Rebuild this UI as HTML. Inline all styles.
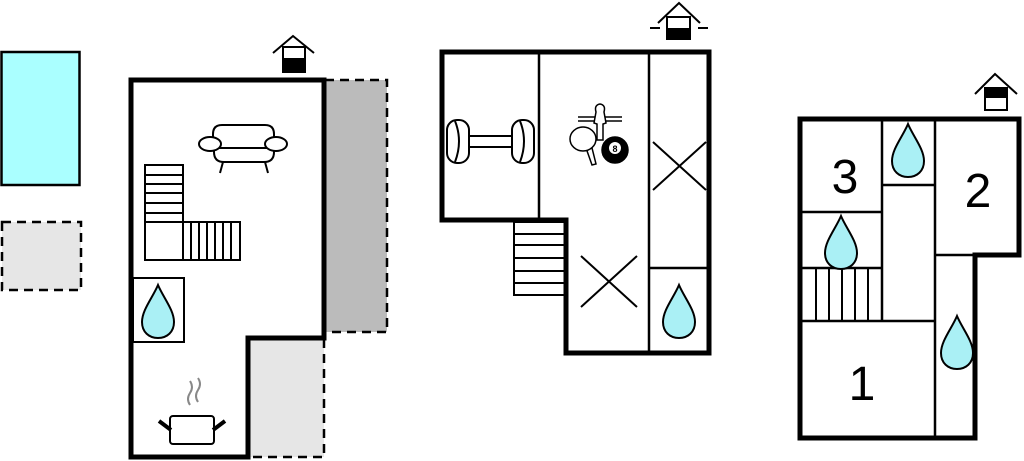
<!DOCTYPE html>
<html><head><meta charset="utf-8"><style>html,body{margin:0;padding:0;background:#fff}svg{display:block}</style></head>
<body>
<svg width="1024" height="461" viewBox="0 0 1024 461" xmlns="http://www.w3.org/2000/svg" font-family="Liberation Sans, sans-serif">
<defs>
<path id="drop" d="M0,-27 C5,-15 16,-2 16,10 C16,20 9,26 0,26 C-9,26 -16,20 -16,10 C-16,-2 -5,-15 0,-27 Z" fill="#aaf0f5" stroke="#000" stroke-width="2"/>
</defs>
<!-- left plan -->
<rect x="1.5" y="52" width="78" height="133" fill="#aaffff" stroke="#000" stroke-width="2.5"/>
<rect x="2" y="222" width="79" height="68" fill="#e6e6e6" stroke="#000" stroke-width="2.5" stroke-dasharray="9,6"/>
<rect x="325" y="80" width="62" height="252" fill="#bbb" stroke="#000" stroke-width="2.5" stroke-dasharray="9,6"/>
<rect x="250" y="338" width="74" height="119" fill="#e6e6e6" stroke="#000" stroke-width="2.5" stroke-dasharray="9,6"/>
<path d="M131,80 H324 V338 H248 V457 H131 Z" fill="#fff" stroke="#000" stroke-width="5"/>
<rect x="250.5" y="340.5" width="71" height="115" fill="#e6e6e6"/>
<g fill="none" stroke="#000" stroke-width="2">
<rect x="145" y="165" width="38" height="95"/>
<rect x="183" y="222" width="57" height="38"/>
<path d="M145,175H183M145,184H183M145,193H183M145,203H183M145,213H183M145,222H183"/>
<path d="M191,222V260M199,222V260M207,222V260M215,222V260M223,222V260M231,222V260"/>
<rect x="133" y="278" width="51" height="64"/>
</g>
<use href="#drop" x="158" y="312"/>
<!-- sofa -->
<g fill="#fff" stroke="#000" stroke-width="2">
<path d="M213,140 V134 Q213,125 222,125 H265 Q274,125 274,134 V140"/>
<path d="M214,148 V152 Q214,162 224,162 H264 Q274,162 274,152 V148"/>
<line x1="214" y1="148" x2="274" y2="148"/>
<ellipse cx="210" cy="144" rx="11" ry="7"/>
<ellipse cx="276" cy="144" rx="11" ry="7"/>
<line x1="223" y1="162" x2="220" y2="173"/><line x1="265" y1="162" x2="268" y2="173"/>
</g>
<!-- pot -->
<g fill="none">
<path d="M190,405 q-4,-6 0,-12 q4,-6 0,-12" stroke="#888" stroke-width="2"/>
<path d="M198,402 q-4,-6 0,-12 q4,-6 0,-12" stroke="#888" stroke-width="2"/>
<rect x="170" y="416" width="44" height="28" rx="3" fill="#fff" stroke="#000" stroke-width="2"/>
<path d="M159,421 L171,430 M225,421 L213,430" stroke="#000" stroke-width="4"/>
</g>
<!-- house icon -->
<g>
<path d="M273,53 L293,36 L314,53" fill="none" stroke="#000" stroke-width="2"/>
<rect x="283" y="47" width="22" height="25" fill="#fff" stroke="#000" stroke-width="2"/>
<rect x="283" y="58" width="22" height="14" fill="#000"/>
</g>

<!-- middle plan -->
<path d="M442,52 H709 V353 H566 V220 H442 Z" fill="#fff" stroke="#000" stroke-width="5"/>
<g fill="none" stroke="#000" stroke-width="2.5">
<path d="M539,52V220M649,52V353M649,268H709"/>
<rect x="514" y="222" width="52" height="73" stroke-width="2"/>
<path d="M514,234H566M514,245H566M514,258H566M514,271H566M514,283H566" stroke-width="2"/>
<path d="M653,142 L706,190 M653,190 L706,142 M581,256 L637,307 M581,307 L637,256" stroke-width="2"/>
</g>
<use href="#drop" x="679" y="312"/>
<!-- dumbbell -->
<g fill="#fff" stroke="#000" stroke-width="2">
<rect x="461" y="136" width="58" height="11" rx="5"/>
<rect x="447" y="120" width="22" height="43" rx="10"/>
<path d="M455,121 Q463,141 455,162"/>
<rect x="512" y="120" width="22" height="43" rx="10"/>
<path d="M520,121 Q528,141 520,162"/>
</g>
<!-- games -->
<g stroke="#000" stroke-width="1.5" fill="#fff">
<path d="M578,117H622M578,121H622"/>
<path d="M596,112 Q594,105 600,104 Q606,105 604,112 L606,123 L603,124 L603,140 H597 L597,124 L594,123 Z"/>
<path d="M586,148 L592,165 L596,164 L592,148 Z"/>
<ellipse cx="583" cy="139" rx="13" ry="12"/>
<circle cx="615" cy="150" r="13" fill="#000"/>
<circle cx="615" cy="148" r="6" fill="#fff" stroke="none"/>
</g>
<text x="615" y="152" font-size="9" text-anchor="middle" font-weight="bold">8</text>
<!-- house icon middle -->
<g>
<path d="M650,28H660M698,28H708" stroke="#000" stroke-width="2"/>
<path d="M658,23 L679,3 L700,23" fill="none" stroke="#000" stroke-width="2"/>
<rect x="667" y="17" width="23" height="22" fill="#fff" stroke="#000" stroke-width="2"/>
<rect x="667" y="28" width="23" height="11" fill="#000"/>
</g>

<!-- right plan -->
<path d="M800,119 H1019 V255 H975 V438 H800 Z" fill="#fff" stroke="#000" stroke-width="5"/>
<g fill="none" stroke="#000" stroke-width="2.5">
<path d="M882,119V321M935,119V438M800,212H882M882,185H935M935,255H975M800,268H882M800,321H935"/>
<path d="M816,268V321M829,268V321M842,268V321M855,268V321M868,268V321" stroke-width="2"/>
</g>
<use href="#drop" x="908" y="151"/>
<use href="#drop" x="841" y="243"/>
<use href="#drop" x="957" y="343"/>
<text x="845" y="193" font-size="48" text-anchor="middle">3</text>
<text x="978" y="207" font-size="48" text-anchor="middle">2</text>
<text x="862" y="400" font-size="48" text-anchor="middle">1</text>
<g>
<path d="M975,94 L995,74 L1017,94" fill="none" stroke="#000" stroke-width="2"/>
<rect x="985" y="88" width="22" height="22" fill="#fff" stroke="#000" stroke-width="2"/>
<rect x="985" y="88" width="22" height="10" fill="#000"/>
</g>
</svg>
</body></html>
